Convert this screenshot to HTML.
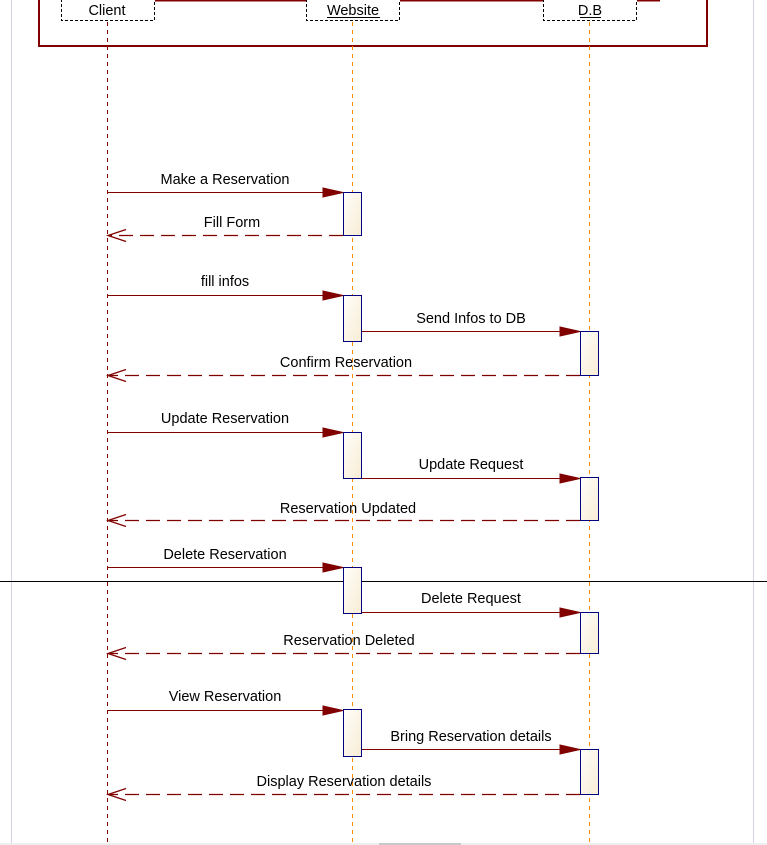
<!DOCTYPE html>
<html><head><meta charset="utf-8"><style>
html,body{margin:0;padding:0;background:#fff;}
svg{display:block;}
text{font-family:"Liberation Sans",Arial,sans-serif;font-size:14.5px;fill:#000;}
</style></head><body>
<svg width="767" height="845" viewBox="0 0 767 845" xmlns="http://www.w3.org/2000/svg">
<defs>
<linearGradient id="g" x1="0" y1="0" x2="1" y2="1"><stop offset="0" stop-color="#fffefb"/><stop offset="1" stop-color="#f8ecd4"/></linearGradient>
</defs>
<rect x="0" y="843" width="767" height="2" fill="#eeeeee"/>
<rect x="379" y="843" width="82" height="2" fill="#c8c8c8"/>
<line x1="11.5" y1="0" x2="11.5" y2="843" stroke="#d4d2e8" stroke-width="1"/>
<line x1="753.5" y1="0" x2="753.5" y2="843" stroke="#d4d2e8" stroke-width="1"/>
<path d="M39 0 V46 H707 V0" fill="none" stroke="#800000" stroke-width="2"/>
<line x1="155" y1="0.5" x2="306" y2="0.5" stroke="#800000" stroke-width="2"/>
<line x1="400" y1="0.5" x2="543" y2="0.5" stroke="#800000" stroke-width="2"/>
<line x1="637" y1="0.5" x2="660" y2="0.5" stroke="#800000" stroke-width="2"/>
<rect x="61.5" y="-5" width="93" height="25.5" fill="#fff" stroke="#000" stroke-dasharray="3,2"/>
<rect x="306.5" y="-5" width="93" height="25.5" fill="#fff" stroke="#000" stroke-dasharray="3,2"/>
<rect x="543.5" y="-5" width="93" height="25.5" fill="#fff" stroke="#000" stroke-dasharray="3,2"/>
<text x="107" y="15" text-anchor="middle">Client</text>
<text x="353" y="15" text-anchor="middle">Website</text>
<line x1="327" y1="17.5" x2="380" y2="17.5" stroke="#000"/>
<text x="590" y="15" text-anchor="middle">D.B</text>
<line x1="580" y1="17.5" x2="601" y2="17.5" stroke="#000"/>
<line x1="107.5" y1="22" x2="107.5" y2="843" stroke="#800000" stroke-dasharray="4,4"/>
<line x1="352.5" y1="22" x2="352.5" y2="843" stroke="#ff8c00" stroke-dasharray="4,4"/>
<line x1="589.5" y1="22" x2="589.5" y2="843" stroke="#ff8c00" stroke-dasharray="4,4"/>
<line x1="0" y1="581.5" x2="767" y2="581.5" stroke="#000" stroke-width="1"/>
<g fill="url(#g)" stroke="#000080" stroke-width="1">
<rect x="343.5" y="192.5" width="18" height="43"/>
<rect x="343.5" y="295.5" width="18" height="46"/>
<rect x="343.5" y="432.5" width="18" height="46"/>
<rect x="343.5" y="567.5" width="18" height="46"/>
<rect x="343.5" y="709.5" width="18" height="47"/>
<rect x="580.5" y="331.5" width="18" height="44"/>
<rect x="580.5" y="477.5" width="18" height="43"/>
<rect x="580.5" y="612.5" width="18" height="41"/>
<rect x="580.5" y="749.5" width="18" height="45"/>
</g>
<g stroke="#800000" stroke-width="1" fill="#800000">
<line x1="108" y1="192.5" x2="325" y2="192.5"/><path d="M323 188 L343 192.5 L323 197 Z"/>
<line x1="108" y1="295.5" x2="325" y2="295.5"/><path d="M323 291 L343 295.5 L323 300 Z"/>
<line x1="362" y1="331.5" x2="562" y2="331.5"/><path d="M560 327 L580 331.5 L560 336 Z"/>
<line x1="108" y1="432.5" x2="325" y2="432.5"/><path d="M323 428 L343 432.5 L323 437 Z"/>
<line x1="362" y1="478.5" x2="562" y2="478.5"/><path d="M560 474 L580 478.5 L560 483 Z"/>
<line x1="108" y1="567.5" x2="325" y2="567.5"/><path d="M323 563 L343 567.5 L323 572 Z"/>
<line x1="362" y1="612.5" x2="562" y2="612.5"/><path d="M560 608 L580 612.5 L560 617 Z"/>
<line x1="108" y1="710.5" x2="325" y2="710.5"/><path d="M323 706 L343 710.5 L323 715 Z"/>
<line x1="362" y1="749.5" x2="562" y2="749.5"/><path d="M560 745 L580 749.5 L560 754 Z"/>
</g>
<g stroke="#800000" stroke-width="1.3" fill="none">
<line x1="343" y1="235.5" x2="108" y2="235.5" stroke-dasharray="14,7"/><path d="M126 229.5 L108 235.5 L126 241.5"/>
<line x1="580" y1="375.5" x2="108" y2="375.5" stroke-dasharray="14,7"/><path d="M126 369.5 L108 375.5 L126 381.5"/>
<line x1="580" y1="520.5" x2="108" y2="520.5" stroke-dasharray="14,7"/><path d="M126 514.5 L108 520.5 L126 526.5"/>
<line x1="580" y1="653.5" x2="108" y2="653.5" stroke-dasharray="14,7"/><path d="M126 647.5 L108 653.5 L126 659.5"/>
<line x1="580" y1="794.5" x2="108" y2="794.5" stroke-dasharray="14,7"/><path d="M126 788.5 L108 794.5 L126 800.5"/>
</g>
<g text-anchor="middle">
<text x="225" y="184">Make a Reservation</text>
<text x="232" y="227">Fill Form</text>
<text x="225" y="286">fill infos</text>
<text x="471" y="323">Send Infos to DB</text>
<text x="346" y="367">Confirm Reservation</text>
<text x="225" y="423">Update Reservation</text>
<text x="471" y="469">Update Request</text>
<text x="348" y="513">Reservation Updated</text>
<text x="225" y="559">Delete Reservation</text>
<text x="471" y="603">Delete Request</text>
<text x="349" y="645">Reservation Deleted</text>
<text x="225" y="701">View Reservation</text>
<text x="471" y="741">Bring Reservation details</text>
<text x="344" y="786">Display Reservation details</text>
</g>
</svg>
</body></html>
